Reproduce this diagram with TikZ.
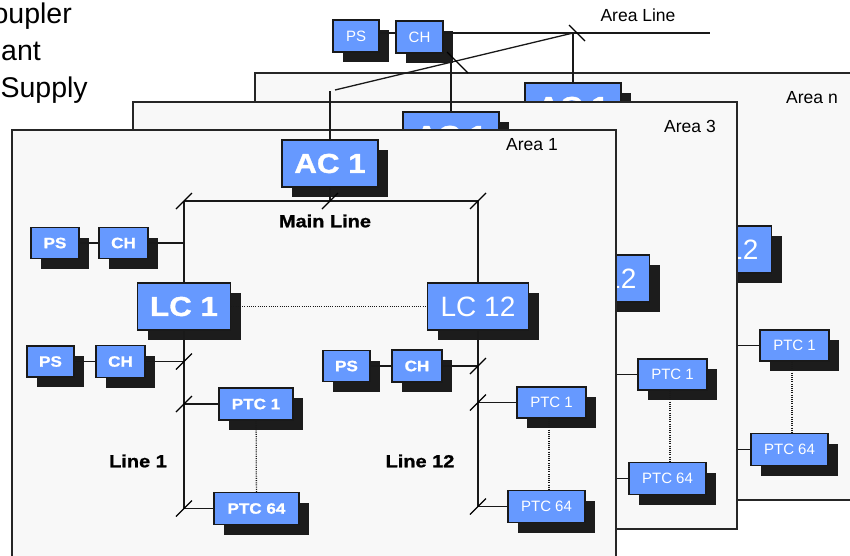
\documentclass[tikz,border=0pt]{standalone}
\usepackage{fontspec}
\setmainfont{Liberation Sans}
\newfontfamily\heavy[FakeStretch=1.14,FakeBold=1.2]{Liberation Sans Bold}
\usetikzlibrary{shadows}

\definecolor{unitblue}{RGB}{102,153,255}
\definecolor{shadowblack}{RGB}{28,28,28}
\definecolor{panelgray}{RGB}{248,248,248}

\newcommand\regsmall{\fontsize{15}{17}\selectfont}
\newcommand\heavysmall{\heavy\fontsize{15}{17}\selectfont}
\newcommand\heavybig{\heavy\fontsize{27.5}{30}\selectfont}
\newcommand\regbig{\fontsize{28}{30}\selectfont}
\newcommand\areafont{\fontsize{17.5}{20}\selectfont}
\newcommand\busfont{\heavy\fontsize{17.5}{20}\selectfont}
\newcommand\legendfont{\fontsize{28.5}{32}\selectfont}

\tikzset{
  panel/.style={draw=black!85, fill=panelgray, line width=1.4pt},
  wire/.style={draw=black!90, line width=1.3pt},
  dots/.style={draw=black!90, line width=1.3pt, dash pattern=on 1pt off 1.2pt},
  tickmark/.style={draw=black, line width=1.3pt},
  unit/.style={draw=black!90, fill=unitblue, text=white, line width=1.3pt, inner sep=0pt,
    drop shadow={shadow xshift=10pt, shadow yshift=-10pt, fill=shadowblack, opacity=1, draw=none}},
  areatext/.style={font=\areafont, text=black, inner sep=0pt},
  bustext/.style={font=\busfont, text=black, inner sep=0pt},
  legend/.style={font=\legendfont, text=black, inner sep=0pt},
}

% short slanted mark where a branch joins a bus
\newcommand\slashtick[1]{\draw[tickmark] #1 ++(-8,8) -- ++(16,-16);}

% one area: panel, area coupler, main line, two lines with their units
% #1 shift, #2 name prefix, #3 title position, #4 title
\newcommand\areablock[4]{%
\begin{scope}[shift={#1}, name prefix=#2-]
  \draw[panel] (12,130) rectangle (616,557);
  \node[areatext] (title) at #3 {#4};
  % units
  \node[unit, minimum width=96pt, minimum height=47pt, font=\heavybig] (ac) at (330,163.5) {AC 1};
  \node[unit, minimum width=93pt, minimum height=47pt, font=\heavybig] (lc1) at (184,306.5) {LC 1};
  \node[unit, minimum width=101pt, minimum height=47pt, font=\regbig] (lc12) at (478,306.5) {LC 12};
  \node[unit, minimum width=48pt, minimum height=31pt, font=\heavysmall] (psm) at (55,243) {PS};
  \node[unit, minimum width=49pt, minimum height=31pt, font=\heavysmall] (chm) at (123.5,243) {CH};
  \node[unit, minimum width=47pt, minimum height=31pt, font=\heavysmall] (ps1) at (50.5,361.5) {PS};
  \node[unit, minimum width=49pt, minimum height=32pt, font=\heavysmall] (ch1) at (120.5,361.5) {CH};
  \node[unit, minimum width=74pt, minimum height=32pt, font=\heavysmall] (ptc1a) at (256,404) {PTC 1};
  \node[unit, minimum width=85pt, minimum height=32pt, font=\heavysmall] (ptc64a) at (256.5,508.5) {PTC 64};
  \node[unit, minimum width=47pt, minimum height=31pt, font=\heavysmall] (ps12) at (346.5,366) {PS};
  \node[unit, minimum width=50pt, minimum height=32pt, font=\heavysmall] (ch12) at (417,366) {CH};
  \node[unit, minimum width=69pt, minimum height=31pt, font=\regsmall] (ptc1b) at (551.5,402.5) {PTC 1};
  \node[unit, minimum width=77pt, minimum height=32pt, font=\regsmall] (ptc64b) at (546.5,506.5) {PTC 64};
  % bus names
  \node[bustext] (mainname) at (325,221) {Main Line};
  \node[bustext] (line1name) at (138,461) {Line 1};
  \node[bustext] (line12name) at (420,461) {Line 12};
  % buses
  \coordinate (b1top) at (184,201);
  \coordinate (b1bot) at (184,508.5);
  \coordinate (b12top) at (478,201);
  \coordinate (b12bot) at (478,506.5);
  \coordinate (dl12) at (549,450);
  \draw[wire] (b1top) -- (b12top);
  \draw[wire] (b1top) -- (lc1);
  \draw[wire] (lc1) -- (b1bot);
  \draw[wire] (b12top) -- (lc12);
  \draw[wire] (lc12) -- (b12bot);
  \draw[wire] (ac) -- (ac |- b1top);
  \draw[wire] (psm) -- (chm) -- (chm -| b1top);
  \draw[wire] (ps1) -- (ch1) -- (ch1 -| b1bot);
  \draw[wire] (ptc1a) -- (ptc1a -| b1bot);
  \draw[wire] (ptc64a) -- (ptc64a -| b1bot);
  \draw[wire] (ps12) -- (ch12) -- (ch12 -| b12bot);
  \draw[wire] (ptc1b) -- (ptc1b -| b12bot);
  \draw[wire] (ptc64b) -- (ptc64b -| b12bot);
  \draw[dots] (lc1) -- (lc12);
  \draw[dots] (ptc1a) -- (ptc64a);
  \draw[dots] (ptc1b.south -| dl12) -- (ptc64b.north -| dl12);
  % junction marks
  \slashtick{(b1top)}
  \slashtick{(ac |- b1top)}
  \slashtick{(b12top)}
  \slashtick{(ch1 -| b1bot)}
  \slashtick{(ptc1a -| b1bot)}
  \slashtick{(b1bot)}
  \slashtick{(ch12 -| b12bot)}
  \slashtick{(ptc1b -| b12bot)}
  \slashtick{(b12bot)}
\end{scope}}

\begin{document}
\begin{tikzpicture}[x=1pt, y=-1pt]
  \useasboundingbox (0,0) rectangle (850,555);
  \clip (0,0) rectangle (850,555);

  % stacked areas, back to front
  \areablock{(243,-57)}{an}{(569,155)}{Area n}
  \areablock{(121,-28)}{a3}{(569,154)}{Area 3}
  \areablock{(0,0)}{a1}{(532,145)}{Area 1}

  % legend
  \node[legend, anchor=base east] (lgc) at (72,23) {Coupler};
  \node[legend, anchor=base east] (lgp) at (41,60) {ant};
  \node[legend, anchor=base east] (lgs) at (88,97) {Power Supply};

  % area line with its power supply
  \node[unit, minimum width=46pt, minimum height=32pt, font=\regsmall] (pst) at (356,36) {PS};
  \node[unit, minimum width=47pt, minimum height=32pt, font=\regsmall] (cht) at (419.5,37) {CH};
  \node[areatext] (altext) at (638,15) {Area Line};
  \coordinate (alend) at (710,33);
  \coordinate (aj) at (573,33);
  \coordinate (dstart) at (335,90);
  \coordinate (riser) at (330,91);
  \coordinate (v3top) at (451,53);
  \draw[wire] (pst.east |- alend) -- (cht.west |- alend);
  \draw[wire] (cht.east |- alend) -- (alend);
  \draw[wire] (dstart) -- (aj);
  \draw[wire] (aj) -- (an-ac);
  \draw[wire] (a1-ac) -- (riser);
  \draw[wire] (v3top) -- (a3-ac);
  \draw[tickmark] (aj) ++(-4,-8) -- ++(16,16);
  \draw[tickmark] (v3top) ++(-4,-1) -- ++(21,21);
\end{tikzpicture}
\end{document}
